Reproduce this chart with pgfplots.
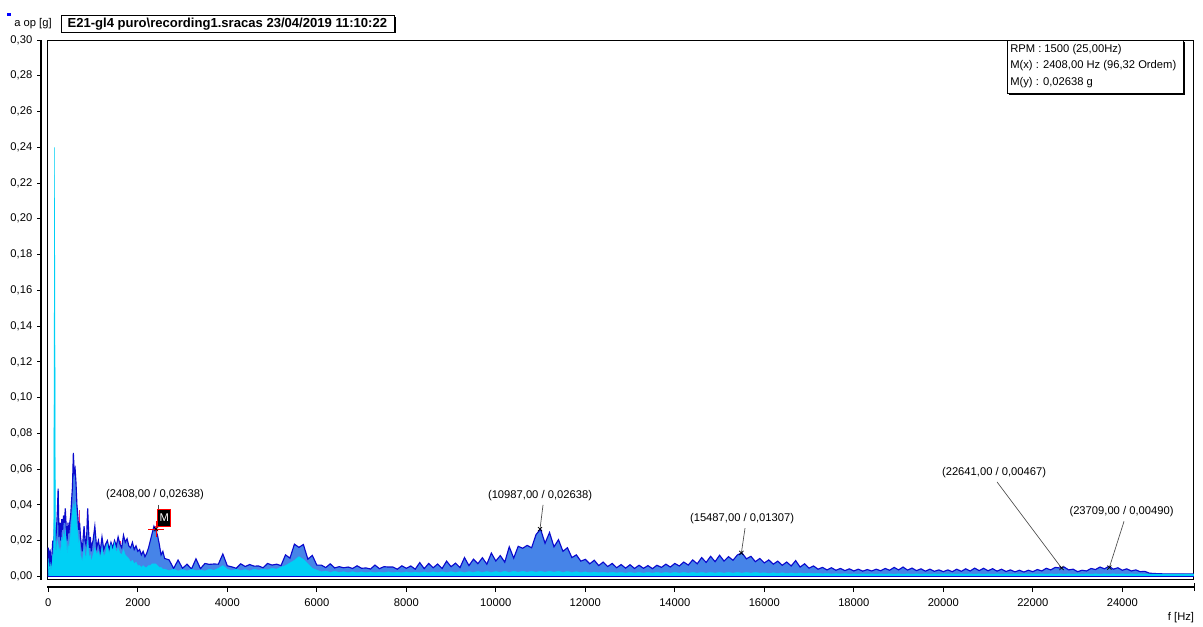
\documentclass[border=0pt]{standalone}
\usepackage{pgfplots}
\pgfplotsset{compat=1.18}
\usepackage{pgfplotstable}
\usepackage{fontspec}
\setmainfont{Liberation Sans}

\definecolor{dkblue}{RGB}{10,10,205}
\definecolor{mdblue}{RGB}{70,132,232}
\definecolor{cyanf}{RGB}{0,208,245}
\definecolor{pinkr}{RGB}{240,40,110}

\pgfplotstableread{
f a c
0 0.016 0.010
20 0.004 0.002
40 0.015 0.008
60 0.006 0.003
80 0.012 0.006
100 0.020 0.012
120 0.016 0.010
140 0.030 0.240
160 0.020 0.015
180 0.025 0.014
200 0.035 0.020
220 0.049 0.018
240 0.022 0.014
260 0.030 0.016
280 0.020 0.012
300 0.032 0.022
320 0.026 0.018
340 0.034 0.024
360 0.030 0.020
380 0.038 0.026
400 0.028 0.020
420 0.020 0.012
440 0.030 0.018
460 0.024 0.015
480 0.030 0.020
500 0.034 0.024
520 0.042 0.030
540 0.050 0.036
560 0.069 0.040
580 0.058 0.034
600 0.060 0.042
620 0.052 0.036
640 0.040 0.028
660 0.034 0.024
680 0.026 0.018
700 0.030 0.020
720 0.022 0.012
740 0.018 0.010
760 0.014 0.008
780 0.022 0.012
800 0.028 0.016
820 0.020 0.012
840 0.018 0.010
860 0.024 0.014
880 0.038 0.020
900 0.026 0.014
920 0.016 0.010
940 0.022 0.012
960 0.014 0.008
980 0.018 0.010
1000 0.020 0.012
1040 0.028 0.016
1080 0.016 0.012
1120 0.020 0.014
1160 0.014 0.010
1200 0.022 0.016
1240 0.015 0.011
1280 0.018 0.013
1320 0.020 0.018
1360 0.015 0.012
1400 0.019 0.018
1440 0.016 0.014
1480 0.020 0.019
1520 0.017 0.013
1560 0.022 0.016
1600 0.018 0.013
1640 0.016 0.012
1680 0.023 0.015
1720 0.019 0.012
1760 0.021 0.011
1800 0.017 0.010
1840 0.016 0.008
1880 0.019 0.009
1920 0.015 0.007
1960 0.017 0.008
2000 0.014 0.006
2040 0.015 0.006
2080 0.012 0.005
2120 0.014 0.006
2160 0.011 0.005
2200 0.013 0.005
2240 0.016 0.006
2280 0.020 0.006
2320 0.024 0.007
2360 0.028 0.007
2400 0.026 0.007
2440 0.023 0.006
2480 0.018 0.005
2520 0.012 0.005
2560 0.014 0.004
2600 0.010 0.004
2700 0.0092 0.0032
2800 0.0044 0.0040
2900 0.0091 0.0030
3000 0.0045 0.0038
3100 0.0068 0.0030
3200 0.0041 0.0040
3300 0.0098 0.0032
3400 0.0043 0.0036
3500 0.0072 0.0030
3600 0.0067 0.0040
3700 0.0069 0.0034
3800 0.0068 0.0045
3900 0.0125 0.0060
4000 0.0059 0.0040
4100 0.0053 0.0032
4200 0.0045 0.0040
4300 0.0070 0.0032
4400 0.0055 0.0038
4500 0.0066 0.0030
4600 0.0057 0.0040
4700 0.0058 0.0034
4800 0.0048 0.0040
4900 0.0072 0.0036
5000 0.0063 0.0045
5100 0.0068 0.0040
5200 0.0060 0.0052
5300 0.0120 0.0060
5400 0.0102 0.0075
5500 0.0180 0.0090
5600 0.0162 0.0110
5700 0.0178 0.0095
5800 0.0096 0.0070
5900 0.0117 0.0045
6000 0.0063 0.0035
6100 0.0063 0.0025
6200 0.0049 0.0030
6300 0.0070 0.0022
6400 0.0047 0.0028
6500 0.0054 0.0022
6600 0.0048 0.0026
6700 0.0052 0.0020
6800 0.0044 0.0026
6900 0.0059 0.0020
7000 0.0045 0.0025
7100 0.0047 0.0020
7200 0.0041 0.0025
7300 0.0063 0.0020
7400 0.0043 0.0024
7500 0.0054 0.0020
7600 0.0052 0.0025
7700 0.0052 0.0020
7800 0.0040 0.0024
7900 0.0059 0.0020
8000 0.0045 0.0025
8100 0.0058 0.0020
8200 0.0040 0.0024
8300 0.0077 0.0020
8400 0.0043 0.0025
8500 0.0072 0.0020
8600 0.0048 0.0025
8700 0.0069 0.0021
8800 0.0044 0.0026
8900 0.0085 0.0021
9000 0.0054 0.0026
9100 0.0074 0.0021
9200 0.0049 0.0026
9300 0.0105 0.0021
9400 0.0060 0.0026
9500 0.0096 0.0022
9600 0.0071 0.0027
9700 0.0104 0.0022
9800 0.0068 0.0027
9900 0.0130 0.0022
10000 0.0086 0.0027
10100 0.0116 0.0022
10200 0.0079 0.0028
10300 0.0165 0.0022
10400 0.0102 0.0028
10500 0.0168 0.0023
10600 0.0157 0.0028
10700 0.0173 0.0023
10800 0.0160 0.0028
10900 0.0234 0.0023
11000 0.0264 0.0028
11100 0.0185 0.0023
11200 0.0245 0.0028
11300 0.0165 0.0023
11400 0.0205 0.0028
11500 0.0140 0.0022
11600 0.0160 0.0027
11700 0.0105 0.0022
11800 0.0120 0.0026
11900 0.0085 0.0021
12000 0.0095 0.0025
12100 0.0070 0.0020
12200 0.0090 0.0024
12300 0.0060 0.0020
12400 0.0080 0.0023
12500 0.0055 0.0019
12600 0.0072 0.0023
12700 0.0048 0.0019
12800 0.0066 0.0022
12900 0.0046 0.0018
13000 0.0065 0.0022
13100 0.0044 0.0018
13200 0.0062 0.0022
13300 0.0045 0.0018
13400 0.0060 0.0022
13500 0.0043 0.0018
13600 0.0062 0.0022
13700 0.0050 0.0018
13800 0.0068 0.0022
13900 0.0052 0.0018
14000 0.0072 0.0022
14100 0.0058 0.0018
14200 0.0080 0.0022
14300 0.0063 0.0018
14400 0.0092 0.0022
14500 0.0070 0.0018
14600 0.0105 0.0022
14700 0.0078 0.0018
14800 0.0112 0.0022
14900 0.0082 0.0018
15000 0.0118 0.0022
15100 0.0085 0.0018
15200 0.0110 0.0022
15300 0.0090 0.0018
15400 0.0120 0.0022
15500 0.0131 0.0018
15600 0.0098 0.0022
15700 0.0112 0.0018
15800 0.0082 0.0022
15900 0.0100 0.0018
16000 0.0075 0.0020
16100 0.0092 0.0016
16200 0.0068 0.0020
16300 0.0085 0.0016
16400 0.0062 0.0020
16500 0.0080 0.0016
16600 0.0058 0.0019
16700 0.0088 0.0016
16800 0.0052 0.0019
16900 0.0070 0.0016
17000 0.0046 0.0018
17100 0.0058 0.0015
17200 0.0040 0.0017
17300 0.0050 0.0014
17400 0.0036 0.0016
17500 0.0048 0.0013
17600 0.0034 0.0015
17700 0.0044 0.0013
17800 0.0032 0.0015
17900 0.0042 0.0012
18000 0.0030 0.0014
18100 0.0040 0.0012
18200 0.0029 0.0014
18300 0.0038 0.0012
18400 0.0030 0.0014
18500 0.0040 0.0012
18600 0.0031 0.0014
18700 0.0044 0.0012
18800 0.0034 0.0014
18900 0.0050 0.0012
19000 0.0036 0.0014
19100 0.0052 0.0012
19200 0.0035 0.0014
19300 0.0046 0.0012
19400 0.0032 0.0014
19500 0.0042 0.0012
19600 0.0029 0.0014
19700 0.0040 0.0012
19800 0.0028 0.0014
19900 0.0036 0.0012
20000 0.0026 0.0014
20100 0.0036 0.0012
20200 0.0026 0.0014
20300 0.0040 0.0012
20400 0.0028 0.0014
20500 0.0042 0.0012
20600 0.0030 0.0014
20700 0.0046 0.0012
20800 0.0032 0.0014
20900 0.0045 0.0012
21000 0.0031 0.0014
21100 0.0043 0.0012
21200 0.0029 0.0014
21300 0.0040 0.0012
21400 0.0027 0.0014
21500 0.0036 0.0012
21600 0.0025 0.0014
21700 0.0034 0.0012
21800 0.0024 0.0014
21900 0.0034 0.0012
22000 0.0026 0.0014
22100 0.0038 0.0012
22200 0.0030 0.0014
22300 0.0045 0.0012
22400 0.0036 0.0014
22500 0.0050 0.0012
22600 0.0047 0.0014
22700 0.0052 0.0012
22800 0.0036 0.0014
22900 0.0040 0.0012
23000 0.0026 0.0014
23100 0.0034 0.0012
23200 0.0030 0.0014
23300 0.0044 0.0012
23400 0.0038 0.0014
23500 0.0052 0.0012
23600 0.0042 0.0014
23700 0.0056 0.0012
23800 0.0040 0.0014
23900 0.0048 0.0012
24000 0.0034 0.0014
24100 0.0042 0.0012
24200 0.0030 0.0014
24300 0.0036 0.0012
24400 0.0026 0.0014
24500 0.0028 0.0012
24600 0.0018 0.0013
24700 0.0016 0.0012
24800 0.0015 0.0012
24900 0.0014 0.0012
25000 0.0014 0.0012
25200 0.0014 0.0012
25400 0.0013 0.0012
25600 0.0013 0.0012
}\spec

\pgfplotstableread{
f p
300 0.031
690 0.037
1040 0.024
1620 0.020
2400 0.028
}\pinkdata

\newcommand{\lbl}{\fontsize{8.4}{10}\selectfont}

\begin{document}
\begin{tikzpicture}[font=\lbl]
\path[use as bounding box, fill=white] (0,0) rectangle (902.25pt,-469.5pt);

% y axis (separate line with ticks)
\begin{axis}[at={(30.75pt,-434.925pt)}, anchor=south west,
  scale only axis, width=1pt, height=404.9pt,
  xmin=0, xmax=1, ymin=-0.002, ymax=0.30,
  axis y line=left, axis x line=none,
  y axis line style={-, black, line width=0.8pt},
  ytick={0,0.02,0.04,0.06,0.08,0.10,0.12,0.14,0.16,0.18,0.20,0.22,0.24,0.26,0.28,0.30},
  scaled y ticks=false,
  tick align=outside, major tick length=3pt,
  tick style={black, line width=0.6pt},
  yticklabel style={font=\lbl, /pgf/number format/.cd, fixed, fixed zerofill, precision=2, use comma, assume math mode=true},
]
\addplot[draw=none] coordinates {(0,0)};
\end{axis}

% x axis (separate line with ticks)
\begin{axis}[at={(35.55pt,-440.25pt)}, anchor=south west,
  scale only axis, width=859.9pt, height=1pt,
  xmin=-20, xmax=25600, ymin=0, ymax=1,
  axis x line=bottom, axis y line=none,
  x axis line style={-, black, line width=0.8pt},
  xtick={0,2000,4000,6000,8000,10000,12000,14000,16000,18000,20000,22000,24000},
  scaled x ticks=false,
  extra x ticks={25600}, extra x tick labels={},
  extra x tick style={tick align=center, major tick length=6pt},
  tick align=outside, major tick length=3.75pt,
  tick style={black, line width=0.6pt},
  xticklabel style={font=\lbl, yshift=-1.5pt, /pgf/number format/.cd, fixed, precision=0, 1000 sep={}, assume math mode=true},
]
\addplot[draw=none] coordinates {(0,0)};
\end{axis}

% main plot area
\begin{axis}[at={(35.55pt,-434.925pt)}, anchor=south west,
  scale only axis, width=859.9pt, height=404.9pt,
  xmin=-20, xmax=25600, ymin=-0.002, ymax=0.30,
  xtick=\empty, ytick=\empty,
  axis line style={black, line width=0.8pt},
]
\addplot[ycomb, pinkr, line width=0.9pt] table[x=f,y=p] {\pinkdata};
\addplot[draw=dkblue, fill=mdblue, line width=0.85pt, line join=miter] table[x=f,y=a] {\spec} \closedcycle;
\addplot[draw=cyanf, fill=cyanf, line width=0.3pt] table[x=f,y=c] {\spec} \closedcycle;
\addplot[dkblue, line width=0.7pt] coordinates {(0,0.0002) (25600,0.0002)};

% marker M
\addplot[only marks, mark=+, red, mark size=6pt, line width=0.6pt] coordinates {(2408,0.02638)};
\addplot[only marks, mark=x, black, mark size=2.2pt, line width=0.5pt] coordinates {(2408,0.02638) (10987,0.02638) (15487,0.01307) (22641,0.00467) (23709,0.00490)};

% annotations
\node[font=\lbl, inner sep=0pt] at (axis cs:2384,0.0455) {(2408,00 / 0,02638)};
\draw[black!70, line width=0.5pt] (axis cs:2460,0.0400) -- (axis cs:2460,0.0375);
\node[fill=black, draw=red, text=white, inner sep=1.2pt, line width=0.7pt, font=\lbl, minimum width=10pt, minimum height=13pt] at (axis cs:2590,0.0326) {M};

\node[font=\lbl, inner sep=0pt] at (axis cs:10988,0.0449) {(10987,00 / 0,02638)};
\draw[black!70, line width=0.5pt] (axis cs:11055,0.0400) -- (axis cs:10987,0.02638);

\node[font=\lbl, inner sep=0pt] at (axis cs:15502,0.0321) {(15487,00 / 0,01307)};
\draw[black!70, line width=0.5pt] (axis cs:15569,0.0270) -- (axis cs:15487,0.01307);

\node[font=\lbl, inner sep=0pt] at (axis cs:21133,0.0580) {(22641,00 / 0,00467)};
\draw[black!70, line width=0.5pt] (axis cs:21200,0.0528) -- (axis cs:22641,0.00467);

\node[font=\lbl, inner sep=0pt] at (axis cs:23982,0.0361) {(23709,00 / 0,00490)};
\draw[black!70, line width=0.5pt] (axis cs:24038,0.0308) -- (axis cs:23709,0.00490);
\end{axis}

% info box
\fill[black] (756.75pt,-31.5pt) rectangle (888.75pt,-71.25pt);
\filldraw[fill=white, draw=black, line width=0.6pt] (755.25pt,-30pt) rectangle (887.25pt,-69.75pt);
\node[anchor=base west, inner sep=0pt, font=\lbl] at (757.5pt,-39pt) {RPM : 1500 (25,00Hz)};
\node[anchor=base west, inner sep=0pt, font=\lbl] at (757.5pt,-51.4pt) {M(x) : 2408,00 Hz (96,32 Ordem)};
\node[anchor=base west, inner sep=0pt, font=\lbl] at (757.5pt,-63.75pt) {M(y) : 0,02638 g};

% title box
\fill[black] (47.5pt,-12.5pt) rectangle (297pt,-25pt);
\filldraw[fill=white, draw=black, line width=0.7pt] (46.25pt,-11.25pt) rectangle (295.5pt,-24pt);
\node[inner sep=0pt, font=\fontsize{9.8}{11}\selectfont\bfseries] at (170.5pt,-18pt) {E21-gl4 puro\textbackslash recording1.sracas 23/04/2019 11:10:22};

% y label and marker
\fill[blue] (5.5pt,-9.5pt) rectangle (8.5pt,-12pt);
\node[inner sep=0pt, font=\lbl] at (24.75pt,-17.5pt) {a op [g]};

% x label
\node[inner sep=0pt, font=\lbl] at (885.75pt,-463.5pt) {f [Hz]};
\end{tikzpicture}
\end{document}
